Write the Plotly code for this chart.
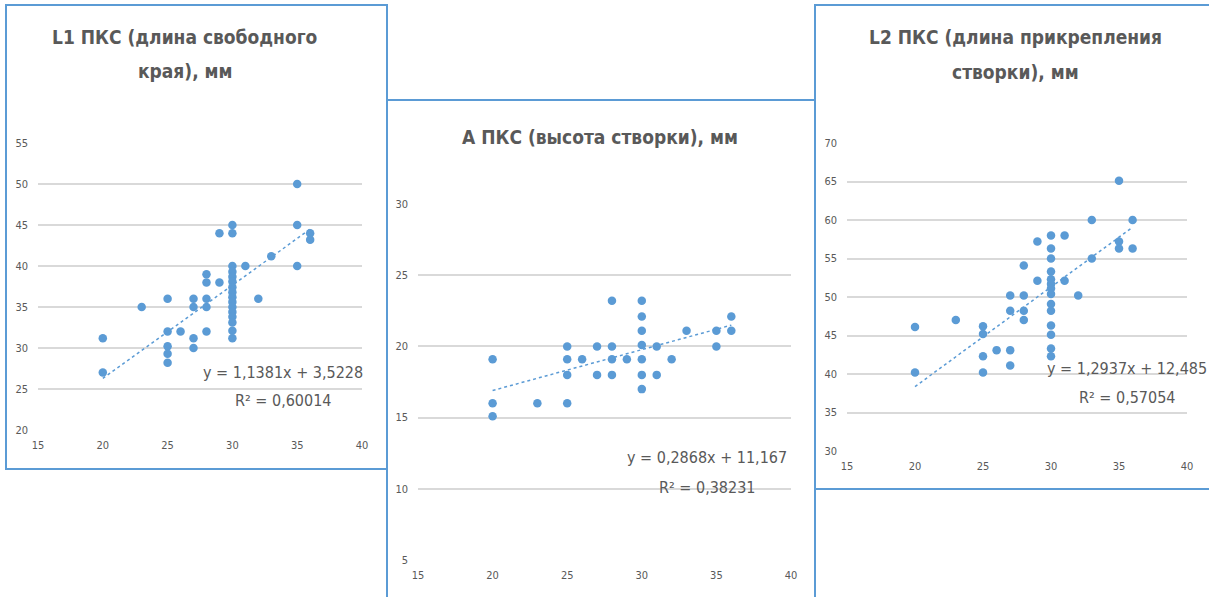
import plotly.graph_objects as go

W, H = 1209, 597

# ---------------- data ----------------
l1_title = ("L1 ПКС (длина свободного", "края), мм")
l1_x = [20, 20, 23, 25, 25, 25, 25, 25, 26, 27, 27, 27, 27, 28, 28, 28, 28, 28, 29, 29,
        30, 30, 30, 30, 30, 30, 30, 30, 30, 30, 30, 30, 30, 30, 30, 30,
        31, 32, 33, 35, 35, 35, 36, 36]
l1_y = [31.2, 27, 35, 36, 32, 30.2, 29.3, 28.2, 32, 36, 35, 31.2, 30, 39, 38, 36, 35, 32, 44, 38,
        45, 44, 40, 39.3, 38.7, 38.1, 37.4, 36.8, 36.2, 35.6, 35, 34.4, 33.8, 33.1, 32.1, 31.2,
        40, 36, 41.2, 50, 45, 40, 44, 43.2]
l1_eq = ("y = 1,1381x + 3,5228", "R² = 0,60014")
l1_coef = (1.1381, 3.5228)

a_title = ("А ПКС (высота створки), мм",)
a_x = [20, 20, 20, 23, 25, 25, 25, 25, 26, 27, 27, 28, 28, 28, 28, 29,
       30, 30, 30, 30, 30, 30, 30, 31, 31, 32, 33, 35, 35, 36, 36]
a_y = [19.1, 16, 15.1, 16, 20, 19.1, 18, 16, 19.1, 20, 18, 23.2, 20, 19.1, 18, 19.1,
       23.2, 22.1, 21.1, 20.1, 19.1, 18, 17, 20, 18, 19.1, 21.1, 21.1, 20, 22.1, 21.1]
a_eq = ("y = 0,2868x + 11,167", "R² = 0,38231")
a_coef = (0.2868, 11.167)

l2_title = ("L2 ПКС (длина прикрепления", "створки), мм")
l2_x = [20, 20, 23, 25, 25, 25, 25, 26, 27, 27, 27, 27, 28, 28, 28, 28, 29, 29,
        30, 30, 30, 30, 30, 30, 30, 30, 30, 30, 30, 30, 30, 30,
        31, 31, 32, 33, 33, 35, 35, 35, 36, 36]
l2_y = [46.1, 40.2, 47, 46.2, 45.2, 42.3, 40.2, 43.1, 50.2, 48.2, 43.1, 41.1, 54.1, 50.2, 48.2, 47, 57.2, 52.1,
        58, 56.3, 55, 53.3, 52.3, 51.7, 51.1, 50.4, 49.1, 48.2, 46.3, 45.1, 43.3, 42.3,
        58, 52.1, 50.2, 60, 55, 65.1, 57.2, 56.3, 60, 56.3]
l2_eq = ("y = 1,2937x + 12,485", "R² = 0,57054")
l2_coef = (1.2937, 12.485)

x_ticks = [15, 20, 25, 30, 35, 40]

# ---------------- styling ----------------
BLUE = "#5B9BD5"
GRAY = "#595959"
GRID = "#D9D9D9"
FONT = "DejaVu Sans Condensed, Open Sans, sans-serif"


def px(x):
    return x / W


def py(y):
    return 1 - y / H


panels = [
    dict(x=l1_x, y=l1_y, coef=l1_coef, eq=l1_eq, title=l1_title,
         xd=(38, 362), yd=(143, 430), yr=(20, 55),
         eqpos=((283, 372), (283, 400)), tpos=((185, 37), (185, 71))),
    dict(x=a_x, y=a_y, coef=a_coef, eq=a_eq, title=a_title,
         xd=(418, 791), yd=(204, 560), yr=(5, 30),
         eqpos=((707, 457), (707, 487)), tpos=((600, 137),)),
    dict(x=l2_x, y=l2_y, coef=l2_coef, eq=l2_eq, title=l2_title,
         xd=(847, 1187), yd=(143, 451), yr=(30, 70),
         eqpos=((1127, 368), (1127, 397)), tpos=((1015, 37), (1015, 72))),
]

fig = go.Figure()
annotations = []
for i, p in enumerate(panels, start=1):
    xa = "x" if i == 1 else f"x{i}"
    ya = "y" if i == 1 else f"y{i}"
    fig.add_trace(go.Scatter(x=p["x"], y=p["y"], mode="markers",
                             marker=dict(color=BLUE, size=8.5),
                             xaxis=xa, yaxis=ya, showlegend=False, cliponaxis=False))
    xmin, xmax = min(p["x"]), max(p["x"])
    k, b = p["coef"]
    fig.add_trace(go.Scatter(x=[xmin, xmax], y=[k * xmin + b, k * xmax + b], mode="lines",
                             line=dict(color=BLUE, width=1.5, dash="dot"),
                             xaxis=xa, yaxis=ya, showlegend=False))
    axis_common = dict(tickfont=dict(family=FONT, size=11, color=GRAY),
                       zeroline=False, showline=False, ticks="", automargin=False)
    fig.layout[f"xaxis{'' if i == 1 else i}"] = dict(
        domain=[px(p["xd"][0]), px(p["xd"][1])], range=[15, 40],
        tickvals=x_ticks, showgrid=False, anchor=ya, ticklabelstandoff=7, **axis_common)
    fig.layout[f"yaxis{'' if i == 1 else i}"] = dict(
        domain=[py(p["yd"][1]), py(p["yd"][0])], range=list(p["yr"]), dtick=5,
        showgrid=True, gridcolor=GRID, gridwidth=1.5, anchor=xa, ticklabelstandoff=9,
        **axis_common)
    for line, (ex, ey) in zip(p["eq"], p["eqpos"]):
        annotations.append(dict(text=line, x=px(ex), y=py(ey), xref="paper", yref="paper",
                                xanchor="center", yanchor="middle", showarrow=False,
                                font=dict(family=FONT, size=16, color=GRAY)))
    for line, (tx, ty) in zip(p["title"], p["tpos"]):
        annotations.append(dict(text=f"<b>{line}</b>", x=px(tx), y=py(ty), xref="paper",
                                yref="paper", xanchor="center", yanchor="middle",
                                showarrow=False, font=dict(family=FONT, size=19, color=GRAY)))

shapes = [
    dict(type="rect", xref="paper", yref="paper", x0=px(6), x1=px(387), y0=py(469), y1=py(5),
         line=dict(color=BLUE, width=2)),
    dict(type="rect", xref="paper", yref="paper", x0=px(387), x1=px(815), y0=py(600), y1=py(100),
         line=dict(color=BLUE, width=2)),
    dict(type="rect", xref="paper", yref="paper", x0=px(815), x1=px(1212), y0=py(489), y1=py(5),
         line=dict(color=BLUE, width=2)),
]

fig.update_layout(width=W, height=H, margin=dict(l=0, r=0, t=0, b=0),
                  paper_bgcolor="white", plot_bgcolor="white",
                  annotations=annotations, shapes=shapes,
                  font=dict(family=FONT, color=GRAY))

fig.write_html("out.html")
